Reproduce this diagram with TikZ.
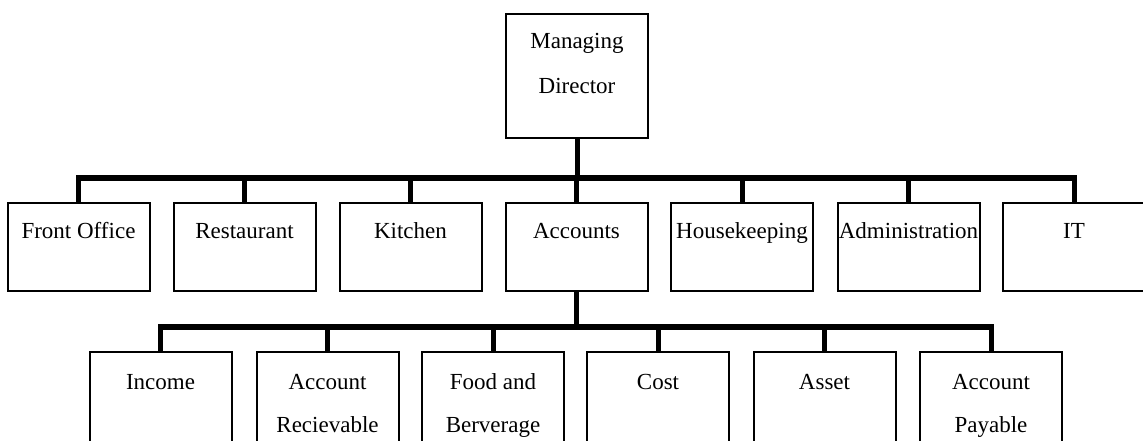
\documentclass[tikz,border=0pt]{standalone}
\usepackage{fontspec}
\setmainfont{Liberation Serif}
\usetikzlibrary{calc}
\begin{document}
\begin{tikzpicture}[x=1pt,y=1pt,
  box/.style={draw=black,line width=2pt,minimum width=142pt,inner sep=0pt,outer sep=0pt,anchor=north},
  topbox/.style={box,minimum height=88pt},
  lowbox/.style={box,minimum height=100pt},
  mdbox/.style={box,minimum height=124pt},
  lbl/.style={font=\fontsize{23}{27}\selectfont,inner sep=0pt,text height=15pt,text depth=4.5pt},
  bus/.style={line width=6pt,line cap=rect},
  stem/.style={line width=5pt}]
\useasboundingbox (0,0) rectangle (1143,-441);
\fill[white] (0,0) rectangle (1143,-441);
% managing director
\node[mdbox] (md) at (577,-14) {};
\node[lbl] (mdl1) at ($(md.north)+(0,-29)$) {Managing};
\node[lbl] (mdl2) at ($(md.north)+(0,-74)$) {Director};
% top level
\node[topbox] (fo)  at (78.5,-203) {};
\node[topbox] (res) at (244.5,-203) {};
\node[topbox] (kit) at (410.5,-203) {};
\node[topbox] (acc) at (576.5,-203) {};
\node[topbox] (hk)  at (742,-203) {};
\node[topbox] (adm) at (908.5,-203) {};
\node[topbox] (it)  at (1074,-203) {};
\foreach \n/\t in {fo/Front Office,res/Restaurant,kit/Kitchen,acc/Accounts,hk/Housekeeping,adm/Administration,it/IT}
  \node[lbl] (\n-l) at ($(\n.north)+(0,-30)$) {\t};
% bus 1
\coordinate (b1) at (0,-178);
\draw[stem] (md.south) -- (md.south |- b1);
\draw[bus] (fo.north |- b1) -- (it.north |- b1);
\foreach \n in {fo,res,kit,acc,hk,adm,it}
  \draw[stem] (\n.north |- b1) -- (\n.north);
% lower level
\node[lowbox] (inc)   at (160.5,-352) {};
\node[lowbox] (ar)    at (327.5,-352) {};
\node[lowbox] (fb)    at (493,-352) {};
\node[lowbox] (cost)  at (658,-352) {};
\node[lowbox] (asset) at (824.5,-352) {};
\node[lowbox] (ap)    at (991,-352) {};
\node[lbl] (inc-l) at ($(inc.north)+(0,-32)$) {Income};
\node[lbl] (ar-l1) at ($(ar.north)+(0,-32)$) {Account};
\node[lbl] (ar-l2) at ($(ar.north)+(0,-75)$) {Recievable};
\node[lbl] (fb-l1) at ($(fb.north)+(0,-32)$) {Food and};
\node[lbl] (fb-l2) at ($(fb.north)+(0,-75)$) {Berverage};
\node[lbl] (cost-l) at ($(cost.north)+(0,-32)$) {Cost};
\node[lbl] (asset-l) at ($(asset.north)+(0,-32)$) {Asset};
\node[lbl] (ap-l1) at ($(ap.north)+(0,-32)$) {Account};
\node[lbl] (ap-l2) at ($(ap.north)+(0,-75)$) {Payable};
% bus 2
\coordinate (b2) at (0,-327);
\draw[stem] (acc.south) -- (acc.south |- b2);
\draw[bus] (inc.north |- b2) -- (ap.north |- b2);
\foreach \n in {inc,ar,fb,cost,asset,ap}
  \draw[stem] (\n.north |- b2) -- (\n.north);
\end{tikzpicture}
\end{document}
